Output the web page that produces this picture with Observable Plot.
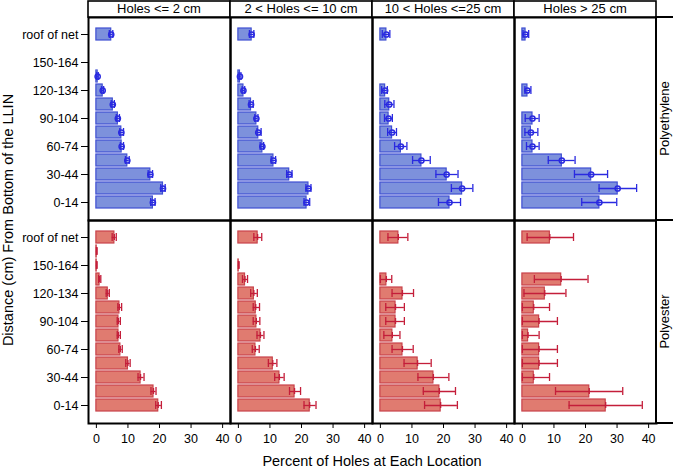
<!DOCTYPE html>
<html><head><meta charset="utf-8">
<script src="https://cdn.jsdelivr.net/npm/d3@7"></script>
<script src="https://cdn.jsdelivr.net/npm/@observablehq/plot@0.6"></script>
<style>body{margin:0;background:#fff} #chart svg{display:block}</style>
</head><body><div id="chart"></div>
<script>
// Categories (bottom to top)
const heights = ["0-14","15-29","30-44","45-59","60-74","75-89","90-104","105-119","120-134","135-149","150-164","165-179","roof of net"];
const yTicks = ["0-14","30-44","60-74","90-104","120-134","150-164","roof of net"];
const holes = ["Holes <= 2 cm","2 < Holes <= 10 cm","10 < Holes <=25 cm","Holes > 25 cm"];
const materials = ["Polyethylene","Polyester"];
const xTicks = [0,10,20,30,40];

// Polyethylene: one array per hole-size column, ordered as heights
const peValue = [
  [17.9,21.1,17.1,9.8,8.0,7.9,6.8,5.2,2.0,0.4,null,null,4.7],
  [21.6,22.2,16.1,11.1,7.6,6.3,5.7,4.0,1.6,0.5,null,null,4.2],
  [21.9,25.9,21.0,13.0,6.5,3.7,2.6,2.8,1.5,null,null,null,1.9],
  [24.4,30.2,21.8,12.5,3.2,2.7,3.2,null,1.6,null,null,null,1.0]
];
const peLow = [
  [17.2,20.4,16.4,9.2,7.6,7.4,6.3,4.7,1.6,0.1,null,null,4.1],
  [20.8,21.4,15.3,10.4,6.9,5.9,5.2,3.4,1.2,0.2,null,null,3.5],
  [18.4,22.5,17.6,10.2,4.5,2.3,1.3,1.4,0.4,null,null,null,0.6],
  [18.8,24.3,16.5,8.2,1.3,0.8,0.9,null,0.8,null,null,null,0.2]
];
const peHigh = [
  [18.6,21.8,17.8,10.4,8.6,8.6,7.3,5.7,2.3,0.6,null,null,5.2],
  [22.6,23.0,17.0,11.8,8.0,7.2,6.2,4.7,2.0,0.8,null,null,4.9],
  [25.4,29.3,24.6,15.8,8.4,5.1,3.8,4.3,2.2,null,null,null,3.0],
  [29.9,36.2,27.0,16.7,5.3,4.9,5.3,null,2.7,null,null,null,2.0]
];
// Polyester
const pesValue = [
  [19.6,18.1,14.0,10.0,7.6,7.0,7.0,7.3,3.6,1.0,0.1,0.1,5.7],
  [22.6,17.8,13.0,10.9,5.4,7.0,5.7,5.5,4.9,2.1,0.1,null,6.1],
  [19.1,18.7,16.8,11.8,7.0,3.8,4.8,4.8,7.0,1.9,null,null,5.7],
  [26.4,21.2,3.6,5.3,5.3,1.8,5.3,3.6,7.1,12.3,null,null,8.7]
];
const pesLow = [
  [18.8,17.3,13.2,9.3,7.1,6.6,6.6,6.8,3.1,0.7,0,0,5.0],
  [20.8,16.2,11.5,9.5,4.4,5.9,4.7,4.7,3.9,1.3,0,null,4.9],
  [14.0,13.6,11.9,7.5,3.7,1.1,1.7,1.7,3.7,0,null,null,2.4],
  [14.8,10.5,0,0,0,0,0,0,0.5,3.8,null,null,1.5]
];
const pesHigh = [
  [20.6,18.9,15.1,10.7,8.2,7.6,7.6,8.0,4.1,1.4,0.2,0.2,6.3],
  [24.6,19.7,14.5,12.2,6.6,8.1,6.8,6.7,6.0,2.9,0.2,null,7.4],
  [24.4,23.8,21.7,16.1,10.4,6.2,7.6,7.6,10.5,3.6,null,null,8.7],
  [38.0,31.8,8.6,11.1,11.1,5.3,11.1,8.6,13.8,20.8,null,null,16.2]
];

const fillC = {Polyethylene: "#7d91dc", Polyester: "#e07b70"};
const strokeC = {Polyethylene: "#3f4fd2", Polyester: "#c8424a"};
const errC = {Polyethylene: "#2a2ae0", Polyester: "#c41e3a"};

const rows = [];
const sets = [["Polyethylene", peValue, peLow, peHigh], ["Polyester", pesValue, pesLow, pesHigh]];
for (const [mat, V, L, H] of sets) {
  holes.forEach((h, j) => {
    heights.forEach((ht, i) => {
      if (V[j][i] != null) rows.push({material: mat, hole: h, height: ht, value: V[j][i], lo: L[j][i], hi: H[j][i]});
    });
  });
}
const isPE = d => d.material === "Polyethylene";
const isPES = d => d.material === "Polyester";

const chart = Plot.plot({
  width: 673, height: 468,
  marginLeft: 88, marginRight: 17, marginTop: 17, marginBottom: 45,
  style: {fontFamily: "'Liberation Sans', Arial, sans-serif", fontSize: "12.5px", color: "black", background: "white"},
  facet: {data: rows, x: "hole", y: "material"},
  fx: {domain: holes, padding: 0, axis: null},
  fy: {domain: materials, padding: 0, axis: null},
  x: {domain: [-2.5, 42.5], ticks: xTicks, tickSize: 5, tickPadding: 6, label: null},
  y: {domain: heights.slice().reverse(), paddingInner: 0.12, paddingOuter: 0.6, ticks: yTicks, tickSize: 7, tickPadding: 3, label: null},
  marks: [
    Plot.barX(rows, {x: "value", y: "height", fill: d => fillC[d.material], stroke: d => strokeC[d.material], strokeWidth: 1.2}),
    Plot.ruleY(rows, {y: "height", x1: "lo", x2: "hi", stroke: d => errC[d.material], strokeWidth: 1.3}),
    Plot.tickX(rows, {x: "lo", y: "height", stroke: d => errC[d.material], strokeWidth: 1.3, insetTop: 2, insetBottom: 2}),
    Plot.tickX(rows, {x: "hi", y: "height", stroke: d => errC[d.material], strokeWidth: 1.3, insetTop: 2, insetBottom: 2}),
    Plot.dot(rows, {filter: isPE, x: "value", y: "height", r: 2.6, stroke: errC.Polyethylene, strokeWidth: 1.5, fill: "none"}),
    Plot.tickX(rows, {filter: isPES, x: "value", y: "height", stroke: errC.Polyester, strokeWidth: 1.3, insetTop: 3, insetBottom: 3}),
    Plot.frame({stroke: "black", strokeWidth: 2})
  ]
});
document.getElementById("chart").append(chart);

// Strip labels and axis titles
const svg = d3.select(chart);
const fxS = chart.scale("fx"), fyS = chart.scale("fy");
const fxB = d3.scaleBand(fxS.domain, fxS.range).paddingInner(fxS.paddingInner || 0).paddingOuter(fxS.paddingOuter || 0);
const fyB = d3.scaleBand(fyS.domain, fyS.range).paddingInner(fyS.paddingInner || 0).paddingOuter(fyS.paddingOuter || 0);
const font = "'Liberation Sans', Arial, sans-serif";
const g = svg.append("g").attr("font-family", font).attr("fill", "black");
const top0 = fyB.range()[0];
holes.forEach(h => {
  const x0 = fxB(h), w = fxB.bandwidth();
  g.append("rect").attr("x", x0).attr("y", 1).attr("width", w).attr("height", top0 - 1)
    .attr("fill", "white").attr("stroke", "black").attr("stroke-width", 1.6);
  g.append("text").attr("x", x0 + w / 2).attr("y", top0 - 4).attr("text-anchor", "middle")
    .attr("font-size", 13).text(h);
});
const right0 = fxB.range()[1];
materials.forEach(m => {
  const y0 = fyB(m), hgt = fyB.bandwidth();
  g.append("rect").attr("x", right0).attr("y", y0).attr("width", 19).attr("height", hgt)
    .attr("fill", "white").attr("stroke", "black").attr("stroke-width", 2);
  g.append("text").attr("transform", `translate(${right0 + 12.5},${y0 + hgt / 2}) rotate(-90)`)
    .attr("text-anchor", "middle").attr("font-size", 13).text(m);
});
const plotLeft = fxB.range()[0];
g.append("text").attr("transform", `translate(13,${(fyB.range()[0] + fyB.range()[1]) / 2}) rotate(-90)`)
  .attr("text-anchor", "middle").attr("font-size", 14.5).text("Distance (cm) From Bottom of the LLIN");
g.append("text").attr("x", (plotLeft + right0) / 2).attr("y", 466).attr("text-anchor", "middle")
  .attr("font-size", 14.5).text("Percent of Holes at Each Location");
</script>
</body></html>
